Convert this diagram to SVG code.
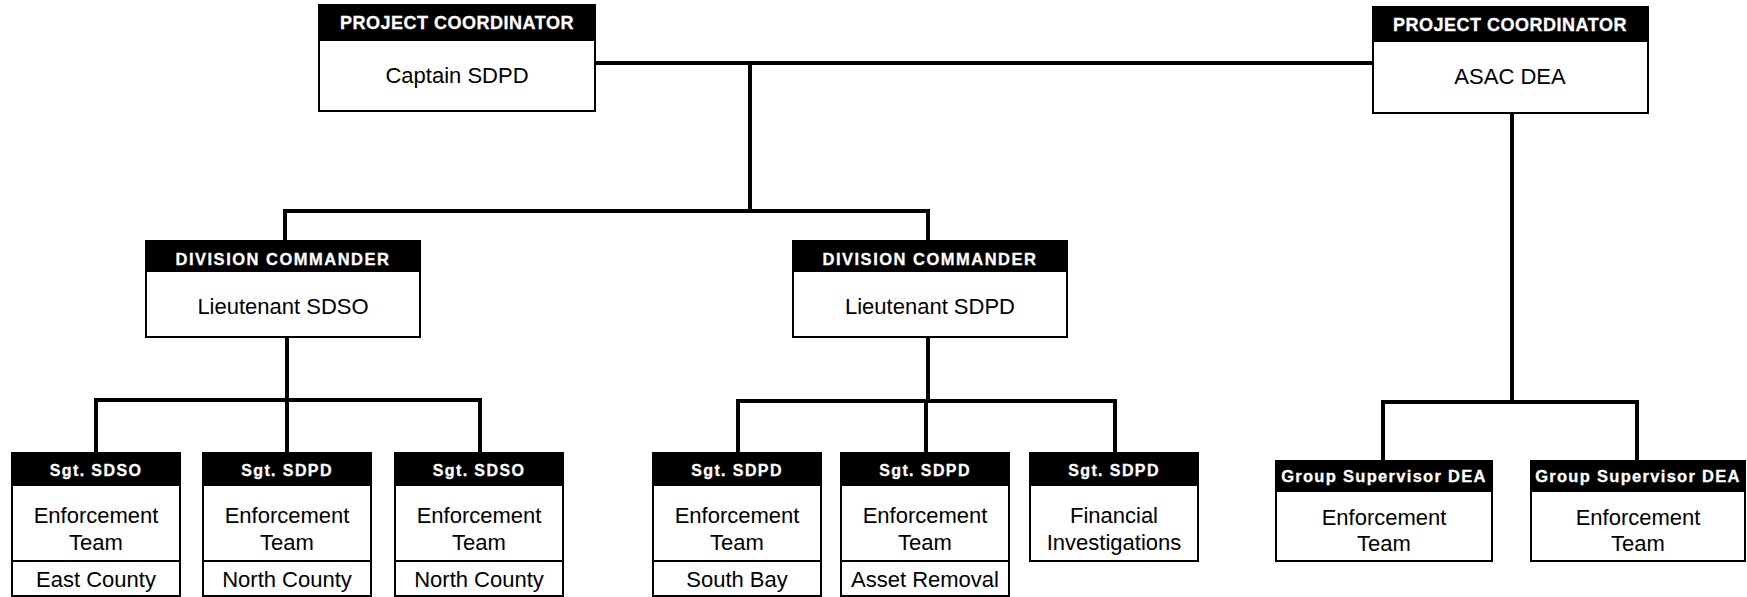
<svg xmlns="http://www.w3.org/2000/svg" width="1747" height="597" viewBox="0 0 1747 597">
<style>
.box{fill:#fff;stroke:#000;stroke-width:2}
.hdr{fill:#000;stroke:#000;stroke-width:2}
.sep{stroke:#000;stroke-width:2}
.ht{font-family:"Liberation Sans",Arial,sans-serif;font-weight:bold;fill:#fff;text-anchor:middle;stroke:#fff;stroke-width:0.3}
.h1{font-size:18px;letter-spacing:0.5px}
.h2{font-size:16.5px;letter-spacing:1.5px}
.h3{font-size:16.5px;letter-spacing:1.3px}
.h4{font-size:16px;letter-spacing:1.4px}
.bt{font-family:"Liberation Sans",Arial,sans-serif;fill:#000;text-anchor:middle;font-size:22px}
.conn{stroke:#000;stroke-width:4;fill:none}
</style>
<rect width="1747" height="597" fill="#fff"/>
<g id="connectors">
<path class="conn" d="M595 63 H1373"/>
<path class="conn" d="M750 63 V211"/>
<path class="conn" d="M285 241 V211 H928 V241"/>
<path class="conn" d="M287 337 V400"/>
<path class="conn" d="M96 453 V400 H480 V453"/>
<path class="conn" d="M287 400 V453"/>
<path class="conn" d="M928 337 V401"/>
<path class="conn" d="M738 453 V401 H1115 V453"/>
<path class="conn" d="M926 401 V453"/>
<path class="conn" d="M1512 113 V402"/>
<path class="conn" d="M1383 461 V402 H1637 V461"/>
</g>
<g id="pc-sdpd">
<rect class="box" x="319" y="5" width="276" height="106"/>
<rect class="hdr" x="319" y="5" width="276" height="35"/>
<text class="ht h1" x="457" y="29">PROJECT COORDINATOR</text>
<text class="bt" x="457" y="83">Captain SDPD</text>
</g>
<g id="pc-dea">
<rect class="box" x="1373" y="7" width="275" height="106"/>
<rect class="hdr" x="1373" y="7" width="275" height="34"/>
<text class="ht h1" x="1510" y="31">PROJECT COORDINATOR</text>
<text class="bt" x="1510" y="84">ASAC DEA</text>
</g>
<g id="dc-sdso">
<rect class="box" x="146" y="241" width="274" height="96"/>
<rect class="hdr" x="146" y="241" width="274" height="30"/>
<text class="ht h2" x="283" y="265">DIVISION COMMANDER</text>
<text class="bt" x="283" y="314">Lieutenant SDSO</text>
</g>
<g id="dc-sdpd">
<rect class="box" x="793" y="241" width="274" height="96"/>
<rect class="hdr" x="793" y="241" width="274" height="30"/>
<text class="ht h2" x="930" y="265">DIVISION COMMANDER</text>
<text class="bt" x="930" y="314">Lieutenant SDPD</text>
</g>
<g id="sgt-sdso-east">
<rect class="box" x="12" y="453" width="168" height="143"/>
<rect class="hdr" x="12" y="453" width="168" height="32"/>
<line class="sep" x1="12" y1="561" x2="180" y2="561"/>
<text class="ht h4" x="96" y="476">Sgt. SDSO</text>
<text class="bt" x="96" y="523">Enforcement</text>
<text class="bt" x="96" y="550">Team</text>
<text class="bt" x="96" y="587">East County</text>
</g>
<g id="sgt-sdpd-north">
<rect class="box" x="203" y="453" width="168" height="143"/>
<rect class="hdr" x="203" y="453" width="168" height="32"/>
<line class="sep" x1="203" y1="561" x2="371" y2="561"/>
<text class="ht h4" x="287" y="476">Sgt. SDPD</text>
<text class="bt" x="287" y="523">Enforcement</text>
<text class="bt" x="287" y="550">Team</text>
<text class="bt" x="287" y="587">North County</text>
</g>
<g id="sgt-sdso-north">
<rect class="box" x="395" y="453" width="168" height="143"/>
<rect class="hdr" x="395" y="453" width="168" height="32"/>
<line class="sep" x1="395" y1="561" x2="563" y2="561"/>
<text class="ht h4" x="479" y="476">Sgt. SDSO</text>
<text class="bt" x="479" y="523">Enforcement</text>
<text class="bt" x="479" y="550">Team</text>
<text class="bt" x="479" y="587">North County</text>
</g>
<g id="sgt-sdpd-south">
<rect class="box" x="653" y="453" width="168" height="143"/>
<rect class="hdr" x="653" y="453" width="168" height="32"/>
<line class="sep" x1="653" y1="561" x2="821" y2="561"/>
<text class="ht h4" x="737" y="476">Sgt. SDPD</text>
<text class="bt" x="737" y="523">Enforcement</text>
<text class="bt" x="737" y="550">Team</text>
<text class="bt" x="737" y="587">South Bay</text>
</g>
<g id="sgt-sdpd-asset">
<rect class="box" x="841" y="453" width="168" height="143"/>
<rect class="hdr" x="841" y="453" width="168" height="32"/>
<line class="sep" x1="841" y1="561" x2="1009" y2="561"/>
<text class="ht h4" x="925" y="476">Sgt. SDPD</text>
<text class="bt" x="925" y="523">Enforcement</text>
<text class="bt" x="925" y="550">Team</text>
<text class="bt" x="925" y="587">Asset Removal</text>
</g>
<g id="sgt-sdpd-fin">
<rect class="box" x="1030" y="453" width="168" height="108"/>
<rect class="hdr" x="1030" y="453" width="168" height="32"/>
<text class="ht h4" x="1114" y="476">Sgt. SDPD</text>
<text class="bt" x="1114" y="523">Financial</text>
<text class="bt" x="1114" y="550">Investigations</text>
</g>
<g id="gs-dea-1">
<rect class="box" x="1276" y="461" width="216" height="100"/>
<rect class="hdr" x="1276" y="461" width="216" height="30"/>
<text class="ht h3" x="1384" y="482">Group Supervisor DEA</text>
<text class="bt" x="1384" y="525">Enforcement</text>
<text class="bt" x="1384" y="551">Team</text>
</g>
<g id="gs-dea-2">
<rect class="box" x="1531" y="461" width="214" height="100"/>
<rect class="hdr" x="1531" y="461" width="214" height="30"/>
<text class="ht h3" x="1638" y="482">Group Supervisor DEA</text>
<text class="bt" x="1638" y="525">Enforcement</text>
<text class="bt" x="1638" y="551">Team</text>
</g>
</svg>
